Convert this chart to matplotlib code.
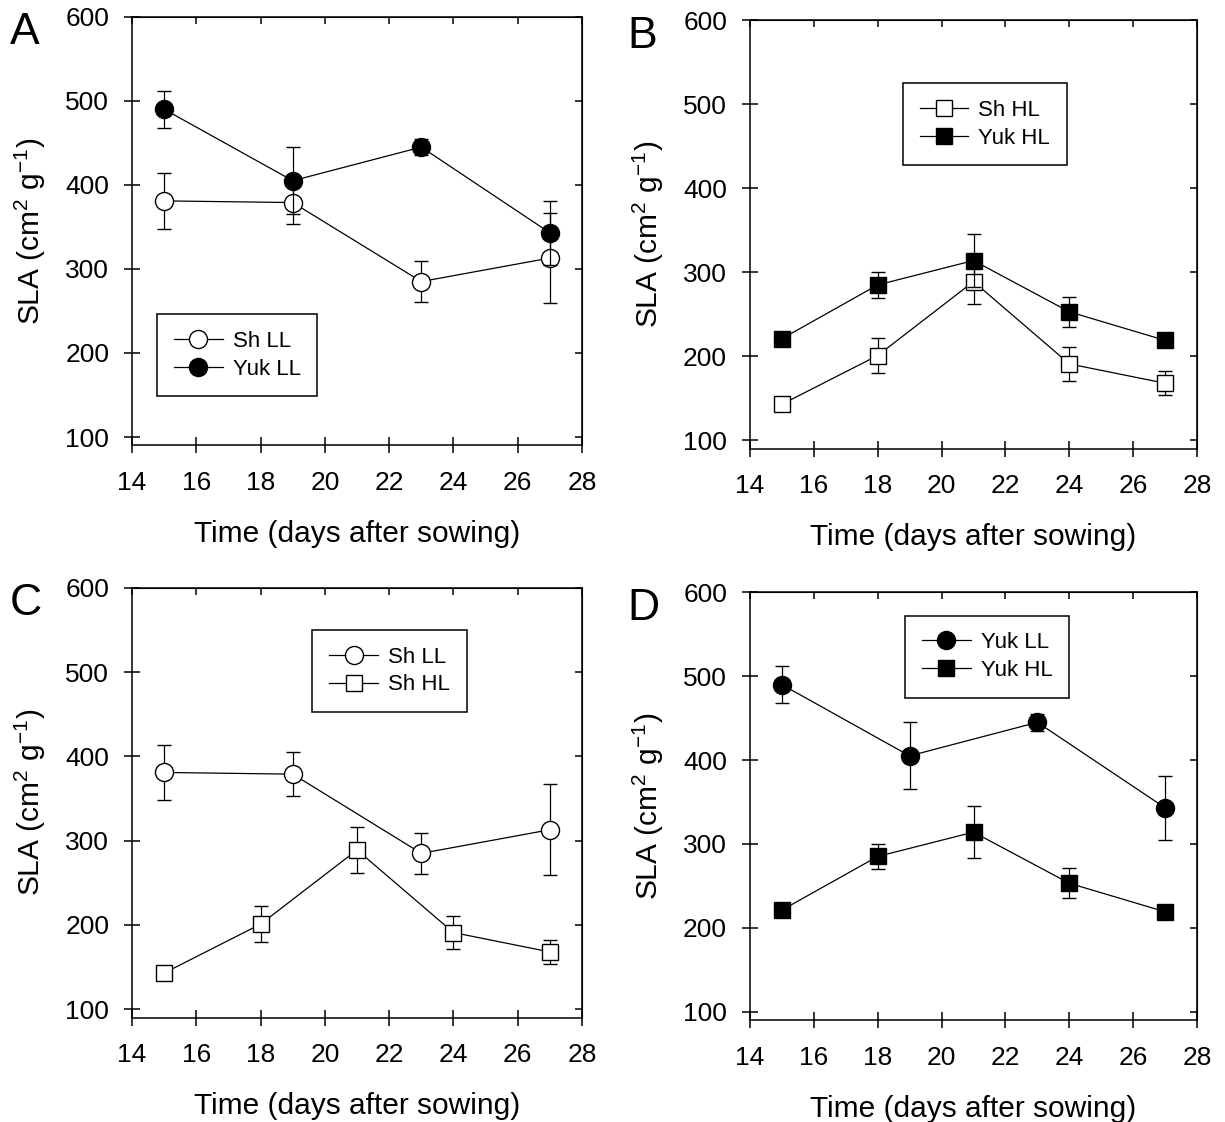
import matplotlib
matplotlib.use("Agg")
import matplotlib.pyplot as plt
from matplotlib.lines import Line2D

plt.rcParams["font.family"] = ["Liberation Sans", "DejaVu Sans"]
plt.rcParams["mathtext.default"] = "regular"

# dias despues de la siembra
days_ll = [15, 19, 23, 27]
days_hl = [15, 18, 21, 24, 27]

# SLA (cm2 g-1) y barras de error
sh_ll = [381, 379, 285, 313]
sh_ll_err = [33, 26, 24, 54]
yuk_ll = [490, 405, 445, 343]
yuk_ll_err = [22, 40, 10, 38]

sh_hl = [143, 201, 289, 191, 168]
sh_hl_err = [4, 21, 27, 20, 14]
yuk_hl = [221, 285, 314, 253, 219]
yuk_hl_err = [4, 15, 31, 18, 4]

x_ticks = [14, 16, 18, 20, 22, 24, 26, 28]
y_ticks = [100, 200, 300, 400, 500, 600]

# nombre -> (x, y, err, marcador, relleno)
SERIES = {
    "Sh LL": (days_ll, sh_ll, sh_ll_err, "o", "white"),
    "Yuk LL": (days_ll, yuk_ll, yuk_ll_err, "o", "black"),
    "Sh HL": (days_hl, sh_hl, sh_hl_err, "s", "white"),
    "Yuk HL": (days_hl, yuk_hl, yuk_hl_err, "s", "black"),
}

# letra, rect de ejes, series, ancla de la leyenda (fraccion de ejes)
PANELS = [
    ("A", [0.1078, 0.603, 0.3673, 0.382], ["Sh LL", "Yuk LL"], (0.056, 0.306)),
    ("B", [0.6122, 0.600, 0.3650, 0.382], ["Sh HL", "Yuk HL"], (0.342, 0.853)),
    ("C", [0.1078, 0.093, 0.3673, 0.383], ["Sh LL", "Sh HL"], (0.401, 0.902)),
    ("D", [0.6122, 0.091, 0.3650, 0.381], ["Yuk LL", "Yuk HL"], (0.347, 0.946)),
]

fig = plt.figure(figsize=(12.25, 11.22), dpi=100, facecolor="white")


def marker_size(marker):
    return 13 if marker == "o" else 12


def draw_series(ax, key, z):
    x, y, err, marker, face = SERIES[key]
    ax.errorbar(x, y, yerr=err, color="black", lw=0.9, elinewidth=0.9,
                capsize=5, capthick=0.9, marker=marker, ms=marker_size(marker),
                mfc=face, mec="black", mew=1.0, zorder=z)


for letter, rect, keys, anchor in PANELS:
    ax = fig.add_axes(rect)
    for i, key in enumerate(keys):
        draw_series(ax, key, 3 + i)

    ax.set_xlim(14, 28)
    ax.set_ylim(90, 600)
    ax.set_xticks(x_ticks)
    ax.set_yticks(y_ticks)
    for s in ax.spines.values():
        s.set_linewidth(1.1)
    ax.tick_params(axis="x", direction="inout", length=11, width=1.1,
                   labelsize=19, pad=13, top=False)
    ax.tick_params(axis="y", direction="inout", length=11, width=1.1,
                   labelsize=19, pad=11, right=False)

    # marcas interiores arriba y a la derecha
    top = ax.secondary_xaxis("top")
    top.set_xticks(x_ticks)
    top.tick_params(direction="in", length=5, width=1.1, labeltop=False)
    right = ax.secondary_yaxis("right")
    right.set_yticks(y_ticks)
    right.tick_params(direction="in", length=5, width=1.1, labelright=False)

    ax.set_xlabel("Time (days after sowing)", fontsize=21.5, labelpad=18)
    ax.set_ylabel("SLA (cm$^{2}$ g$^{-1}$)", fontsize=21.5, labelpad=12)

    handles = []
    for key in keys:
        _, _, _, marker, face = SERIES[key]
        handles.append(Line2D([], [], color="black", lw=0.9, marker=marker,
                              ms=marker_size(marker), mfc=face, mec="black", mew=1.0))
    leg = ax.legend(handles, keys, loc="upper left", bbox_to_anchor=anchor,
                    fontsize=16, frameon=True, fancybox=False, framealpha=1,
                    edgecolor="black", borderpad=0.75, labelspacing=0.3,
                    handlelength=2.2, handletextpad=0.45, borderaxespad=0)
    leg.get_frame().set_linewidth(1.1)

    fig.text(rect[0] - 0.1, rect[1] + rect[3] + 0.004, letter, fontsize=32,
             ha="left", va="top")

fig.savefig("out.png", dpi=100)
